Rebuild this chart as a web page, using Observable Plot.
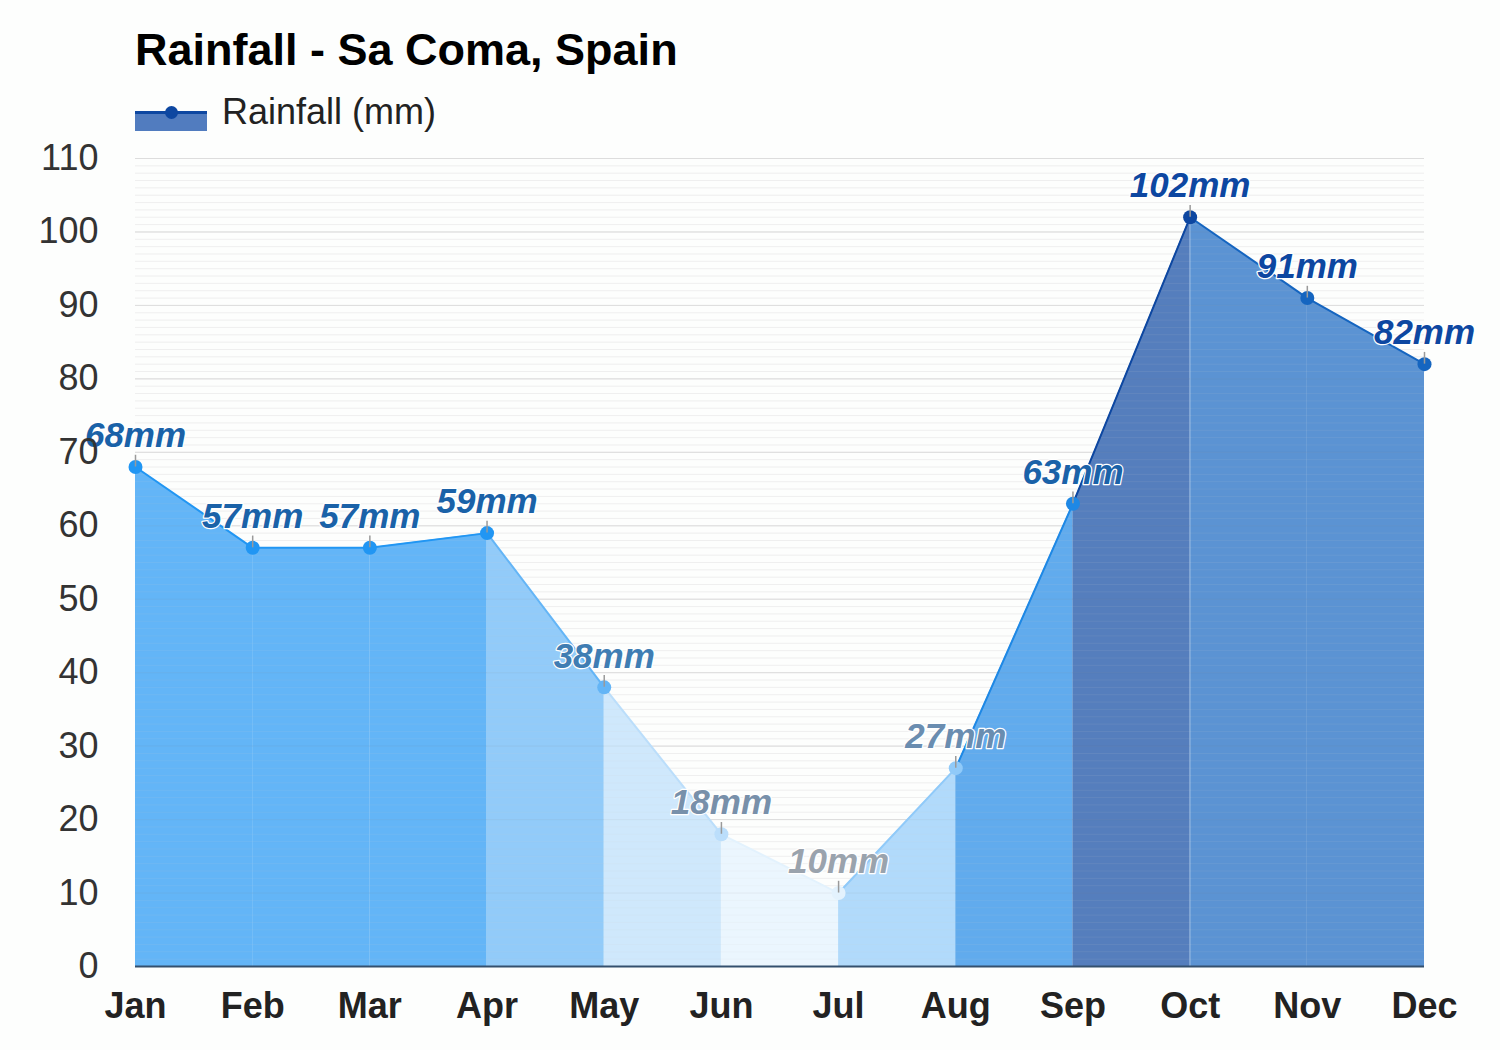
<!DOCTYPE html>
<html>
<head>
<meta charset="utf-8">
<script src="https://cdn.jsdelivr.net/npm/d3@7"></script>
<script src="https://cdn.jsdelivr.net/npm/@observablehq/plot@0.6"></script>
<style>
  html, body { margin: 0; padding: 0; background: #fdfefd; }
  body { width: 1500px; height: 1050px; position: relative; overflow: hidden; font-family: "Liberation Sans", Arial, sans-serif; }
  #title { position: absolute; left: 135px; top: 28px; font-size: 45px; line-height: 44px; font-weight: bold; color: #000; white-space: nowrap; }
  #legend-text { position: absolute; left: 222px; top: 94px; font-size: 36px; line-height: 36px; color: #222; white-space: nowrap; }
  #sw-rect { position: absolute; left: 135px; top: 113px; width: 72px; height: 18px; background: #517cbf; }
  #sw-line { position: absolute; left: 135px; top: 111px; width: 72px; height: 3px; background: #0d47a1; }
  #sw-dot { position: absolute; left: 165px; top: 106px; width: 13px; height: 13px; border-radius: 50%; background: #0d47a1; }
  #chart { position: absolute; left: 0; top: 120px; }
  #chart svg { overflow: visible; }
</style>
</head>
<body>
<div id="title">Rainfall - Sa Coma, Spain</div>
<div id="sw-rect"></div><div id="sw-line"></div><div id="sw-dot"></div>
<div id="legend-text">Rainfall (mm)</div>
<div id="chart"></div>
<script>
const months = ["Jan","Feb","Mar","Apr","May","Jun","Jul","Aug","Sep","Oct","Nov","Dec"];
const rainfall = [68, 57, 57, 59, 38, 18, 10, 27, 63, 102, 91, 82];
const pointColors = ["#2196f3","#2196f3","#2196f3","#2196f3","#64b5f6","#bbdefb","#e3f2fd","#90caf9","#1e88e5","#0d47a1","#1565c0","#1565c0"];
const labelColors = ["#1a62a8","#1a62a8","#1a62a8","#1a62a8","#3f7db3","#7890aa","#9aa3ad","#6a8db0","#1a62a8","#0d47a1","#0d47a1","#0d47a1"];
const yMajor = d3.range(0, 111, 10);
const yMinor = d3.range(0, 111, 1);

const points = months.map((m, i) => ({i, month: m, v: rainfall[i], color: pointColors[i], label: `${rainfall[i]}mm`, lc: labelColors[i]}));
const segs = [];
for (let i = 0; i < points.length - 1; i++) {
  const c = pointColors[i + 1];
  segs.push({seg: i, x: i, v: rainfall[i], color: c});
  segs.push({seg: i, x: i + 1, v: rainfall[i + 1], color: c});
}
const maxV = d3.max(rainfall);

const chart = Plot.plot({
  width: 1500,
  height: 930,
  marginTop: 38,
  marginBottom: 84,
  marginLeft: 135,
  marginRight: 76,
  style: {fontFamily: "'Liberation Sans', Arial, sans-serif", background: "transparent", overflow: "visible"},
  x: {domain: [0, 11], axis: null},
  y: {domain: [0, 110], axis: null},
  marks: [
    Plot.ruleY(yMinor, {stroke: "#eeeeee", strokeWidth: 1}),
    Plot.ruleY(yMajor, {stroke: "#dadada", strokeWidth: 1}),
    Plot.area(segs, {x1: "x", y1: 0, y2: "v", z: "seg", fill: "color", fillOpacity: 0.7}),
    Plot.ruleY(yMinor, {stroke: "#ffffff", strokeOpacity: 0.1, strokeWidth: 1}),
    Plot.line(segs, {x: "x", y: "v", z: "seg", stroke: "color", strokeWidth: 2}),
    Plot.ruleX(points.filter(d => d.v === maxV), {x: "i", y1: 0, y2: "v", stroke: "#ffffff", strokeOpacity: 0.3, strokeWidth: 1}),
    Plot.ruleY([0], {stroke: "#34506e", strokeWidth: 2}),
    Plot.dot(points, {x: "i", y: "v", r: 7, fill: "color", stroke: null}),
    Plot.ruleX(points, {x: "i", y1: "v", y2: d => d.v + 1.6, stroke: "#9a9a9a", strokeWidth: 1.5}),
    Plot.text(points, {x: "i", y: "v", text: "label", dy: -31, fill: "lc", fontSize: 35, fontWeight: "bold", fontStyle: "italic", stroke: "white", strokeWidth: 2.5, paintOrder: "stroke"}),
    Plot.axisY(yMajor, {anchor: "left", tickSize: 0, tickPadding: 37, fontSize: 36, fill: "#333", label: null}),
    Plot.axisX(d3.range(12), {anchor: "bottom", tickSize: 0, tickPadding: 26, fontSize: 36, fontWeight: "bold", fill: "#222", tickFormat: i => months[i], label: null})
  ]
});
document.getElementById("chart").appendChild(chart);
</script>
</body>
</html>
